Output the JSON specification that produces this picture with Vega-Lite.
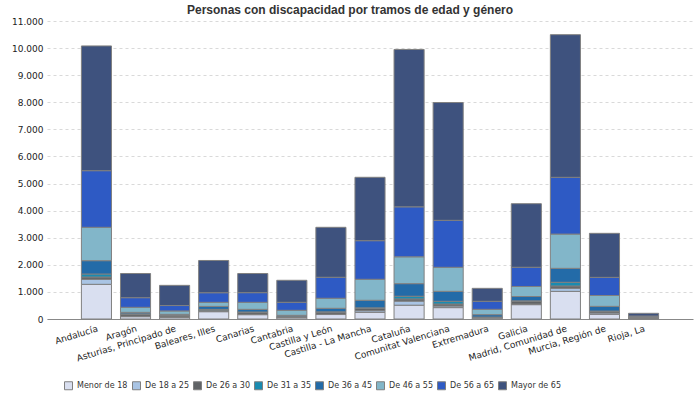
{
  "$schema": "https://vega.github.io/schema/vega-lite/v6.json",
  "autosize": "none",
  "padding": {"left": 47, "top": 21, "right": 7, "bottom": 81},
  "width": 646,
  "height": 298,
  "title": {
    "text": "Personas con discapacidad por tramos de edad y género",
    "font": "Liberation Sans",
    "fontSize": 12,
    "fontWeight": "bold",
    "color": "#333333",
    "anchor": "middle",
    "dx": -20,
    "offset": 0
  },
  "data": {
    "values": [
      {"c": "Andalucía", "g": "Menor de 18", "o": 1, "v": 1280},
      {"c": "Andalucía", "g": "De 18 a 25", "o": 2, "v": 184},
      {"c": "Andalucía", "g": "De 26 a 30", "o": 3, "v": 86},
      {"c": "Andalucía", "g": "De 31 a 35", "o": 4, "v": 111},
      {"c": "Andalucía", "g": "De 36 a 45", "o": 5, "v": 492},
      {"c": "Andalucía", "g": "De 46 a 55", "o": 6, "v": 1232},
      {"c": "Andalucía", "g": "De 56 a 65", "o": 7, "v": 2090},
      {"c": "Andalucía", "g": "Mayor de 65", "o": 8, "v": 4605},
      {"c": "Aragón", "g": "Menor de 18", "o": 1, "v": 86},
      {"c": "Aragón", "g": "De 18 a 25", "o": 2, "v": 14},
      {"c": "Aragón", "g": "De 26 a 30", "o": 3, "v": 75},
      {"c": "Aragón", "g": "De 31 a 35", "o": 4, "v": 15},
      {"c": "Aragón", "g": "De 36 a 45", "o": 5, "v": 56},
      {"c": "Aragón", "g": "De 46 a 55", "o": 6, "v": 185},
      {"c": "Aragón", "g": "De 56 a 65", "o": 7, "v": 356},
      {"c": "Aragón", "g": "Mayor de 65", "o": 8, "v": 893},
      {"c": "Asturias, Principado de", "g": "Menor de 18", "o": 1, "v": 62},
      {"c": "Asturias, Principado de", "g": "De 18 a 25", "o": 2, "v": 10},
      {"c": "Asturias, Principado de", "g": "De 26 a 30", "o": 3, "v": 45},
      {"c": "Asturias, Principado de", "g": "De 31 a 35", "o": 4, "v": 10},
      {"c": "Asturias, Principado de", "g": "De 36 a 45", "o": 5, "v": 45},
      {"c": "Asturias, Principado de", "g": "De 46 a 55", "o": 6, "v": 125},
      {"c": "Asturias, Principado de", "g": "De 56 a 65", "o": 7, "v": 200},
      {"c": "Asturias, Principado de", "g": "Mayor de 65", "o": 8, "v": 745},
      {"c": "Baleares, Illes", "g": "Menor de 18", "o": 1, "v": 270},
      {"c": "Baleares, Illes", "g": "De 18 a 25", "o": 2, "v": 25},
      {"c": "Baleares, Illes", "g": "De 26 a 30", "o": 3, "v": 30},
      {"c": "Baleares, Illes", "g": "De 31 a 35", "o": 4, "v": 30},
      {"c": "Baleares, Illes", "g": "De 36 a 45", "o": 5, "v": 110},
      {"c": "Baleares, Illes", "g": "De 46 a 55", "o": 6, "v": 150},
      {"c": "Baleares, Illes", "g": "De 56 a 65", "o": 7, "v": 355},
      {"c": "Baleares, Illes", "g": "Mayor de 65", "o": 8, "v": 1190},
      {"c": "Canarias", "g": "Menor de 18", "o": 1, "v": 160},
      {"c": "Canarias", "g": "De 18 a 25", "o": 2, "v": 12},
      {"c": "Canarias", "g": "De 26 a 30", "o": 3, "v": 76},
      {"c": "Canarias", "g": "De 31 a 35", "o": 4, "v": 10},
      {"c": "Canarias", "g": "De 36 a 45", "o": 5, "v": 99},
      {"c": "Canarias", "g": "De 46 a 55", "o": 6, "v": 258},
      {"c": "Canarias", "g": "De 56 a 65", "o": 7, "v": 357},
      {"c": "Canarias", "g": "Mayor de 65", "o": 8, "v": 708},
      {"c": "Cantabria", "g": "Menor de 18", "o": 1, "v": 50},
      {"c": "Cantabria", "g": "De 18 a 25", "o": 2, "v": 8},
      {"c": "Cantabria", "g": "De 26 a 30", "o": 3, "v": 20},
      {"c": "Cantabria", "g": "De 31 a 35", "o": 4, "v": 8},
      {"c": "Cantabria", "g": "De 36 a 45", "o": 5, "v": 50},
      {"c": "Cantabria", "g": "De 46 a 55", "o": 6, "v": 185},
      {"c": "Cantabria", "g": "De 56 a 65", "o": 7, "v": 295},
      {"c": "Cantabria", "g": "Mayor de 65", "o": 8, "v": 813},
      {"c": "Castilla y León", "g": "Menor de 18", "o": 1, "v": 165},
      {"c": "Castilla y León", "g": "De 18 a 25", "o": 2, "v": 10},
      {"c": "Castilla y León", "g": "De 26 a 30", "o": 3, "v": 80},
      {"c": "Castilla y León", "g": "De 31 a 35", "o": 4, "v": 10},
      {"c": "Castilla y León", "g": "De 36 a 45", "o": 5, "v": 130},
      {"c": "Castilla y León", "g": "De 46 a 55", "o": 6, "v": 370},
      {"c": "Castilla y León", "g": "De 56 a 65", "o": 7, "v": 775},
      {"c": "Castilla y León", "g": "Mayor de 65", "o": 8, "v": 1845},
      {"c": "Castilla - La Mancha", "g": "Menor de 18", "o": 1, "v": 246},
      {"c": "Castilla - La Mancha", "g": "De 18 a 25", "o": 2, "v": 60},
      {"c": "Castilla - La Mancha", "g": "De 26 a 30", "o": 3, "v": 90},
      {"c": "Castilla - La Mancha", "g": "De 31 a 35", "o": 4, "v": 15},
      {"c": "Castilla - La Mancha", "g": "De 36 a 45", "o": 5, "v": 280},
      {"c": "Castilla - La Mancha", "g": "De 46 a 55", "o": 6, "v": 775},
      {"c": "Castilla - La Mancha", "g": "De 56 a 65", "o": 7, "v": 1425},
      {"c": "Castilla - La Mancha", "g": "Mayor de 65", "o": 8, "v": 2340},
      {"c": "Cataluña", "g": "Menor de 18", "o": 1, "v": 510},
      {"c": "Cataluña", "g": "De 18 a 25", "o": 2, "v": 150},
      {"c": "Cataluña", "g": "De 26 a 30", "o": 3, "v": 80},
      {"c": "Cataluña", "g": "De 31 a 35", "o": 4, "v": 100},
      {"c": "Cataluña", "g": "De 36 a 45", "o": 5, "v": 465},
      {"c": "Cataluña", "g": "De 46 a 55", "o": 6, "v": 990},
      {"c": "Cataluña", "g": "De 56 a 65", "o": 7, "v": 1845},
      {"c": "Cataluña", "g": "Mayor de 65", "o": 8, "v": 5810},
      {"c": "Comunitat Valenciana", "g": "Menor de 18", "o": 1, "v": 420},
      {"c": "Comunitat Valenciana", "g": "De 18 a 25", "o": 2, "v": 60},
      {"c": "Comunitat Valenciana", "g": "De 26 a 30", "o": 3, "v": 73},
      {"c": "Comunitat Valenciana", "g": "De 31 a 35", "o": 4, "v": 100},
      {"c": "Comunitat Valenciana", "g": "De 36 a 45", "o": 5, "v": 368},
      {"c": "Comunitat Valenciana", "g": "De 46 a 55", "o": 6, "v": 887},
      {"c": "Comunitat Valenciana", "g": "De 56 a 65", "o": 7, "v": 1734},
      {"c": "Comunitat Valenciana", "g": "Mayor de 65", "o": 8, "v": 4348},
      {"c": "Extremadura", "g": "Menor de 18", "o": 1, "v": 37},
      {"c": "Extremadura", "g": "De 18 a 25", "o": 2, "v": 10},
      {"c": "Extremadura", "g": "De 26 a 30", "o": 3, "v": 15},
      {"c": "Extremadura", "g": "De 31 a 35", "o": 4, "v": 10},
      {"c": "Extremadura", "g": "De 36 a 45", "o": 5, "v": 88},
      {"c": "Extremadura", "g": "De 46 a 55", "o": 6, "v": 197},
      {"c": "Extremadura", "g": "De 56 a 65", "o": 7, "v": 296},
      {"c": "Extremadura", "g": "Mayor de 65", "o": 8, "v": 479},
      {"c": "Galicia", "g": "Menor de 18", "o": 1, "v": 530},
      {"c": "Galicia", "g": "De 18 a 25", "o": 2, "v": 20},
      {"c": "Galicia", "g": "De 26 a 30", "o": 3, "v": 110},
      {"c": "Galicia", "g": "De 31 a 35", "o": 4, "v": 10},
      {"c": "Galicia", "g": "De 36 a 45", "o": 5, "v": 160},
      {"c": "Galicia", "g": "De 46 a 55", "o": 6, "v": 370},
      {"c": "Galicia", "g": "De 56 a 65", "o": 7, "v": 710},
      {"c": "Galicia", "g": "Mayor de 65", "o": 8, "v": 2346},
      {"c": "Madrid, Comunidad de", "g": "Menor de 18", "o": 1, "v": 1020},
      {"c": "Madrid, Comunidad de", "g": "De 18 a 25", "o": 2, "v": 115},
      {"c": "Madrid, Comunidad de", "g": "De 26 a 30", "o": 3, "v": 85},
      {"c": "Madrid, Comunidad de", "g": "De 31 a 35", "o": 4, "v": 135},
      {"c": "Madrid, Comunidad de", "g": "De 36 a 45", "o": 5, "v": 515},
      {"c": "Madrid, Comunidad de", "g": "De 46 a 55", "o": 6, "v": 1265},
      {"c": "Madrid, Comunidad de", "g": "De 56 a 65", "o": 7, "v": 2095},
      {"c": "Madrid, Comunidad de", "g": "Mayor de 65", "o": 8, "v": 5265},
      {"c": "Murcia, Región de", "g": "Menor de 18", "o": 1, "v": 172},
      {"c": "Murcia, Región de", "g": "De 18 a 25", "o": 2, "v": 50},
      {"c": "Murcia, Región de", "g": "De 26 a 30", "o": 3, "v": 60},
      {"c": "Murcia, Región de", "g": "De 31 a 35", "o": 4, "v": 10},
      {"c": "Murcia, Región de", "g": "De 36 a 45", "o": 5, "v": 175},
      {"c": "Murcia, Región de", "g": "De 46 a 55", "o": 6, "v": 400},
      {"c": "Murcia, Región de", "g": "De 56 a 65", "o": 7, "v": 670},
      {"c": "Murcia, Región de", "g": "Mayor de 65", "o": 8, "v": 1625},
      {"c": "Rioja, La", "g": "Menor de 18", "o": 1, "v": 15},
      {"c": "Rioja, La", "g": "De 18 a 25", "o": 2, "v": 5},
      {"c": "Rioja, La", "g": "De 26 a 30", "o": 3, "v": 15},
      {"c": "Rioja, La", "g": "De 31 a 35", "o": 4, "v": 5},
      {"c": "Rioja, La", "g": "De 36 a 45", "o": 5, "v": 15},
      {"c": "Rioja, La", "g": "De 46 a 55", "o": 6, "v": 25},
      {"c": "Rioja, La", "g": "De 56 a 65", "o": 7, "v": 30},
      {"c": "Rioja, La", "g": "Mayor de 65", "o": 8, "v": 100}
    ]
  },
  "mark": {"type": "bar", "stroke": "#808080", "strokeWidth": 1},
  "encoding": {
    "x": {
      "field": "c",
      "type": "nominal",
      "sort": null,
      "title": null,
      "scale": {"paddingInner": 0.23, "paddingOuter": 0.88},
      "axis": {
        "labelAngle": -17,
        "labelAlign": "right",
        "labelBaseline": "top",
        "labelPadding": 5,
        "labelFont": "DejaVu Sans",
        "labelFontSize": 9,
        "labelColor": "#222222",
        "ticks": false,
        "domainColor": "#888888",
        "labelOverlap": false,
        "labelLimit": 300
      }
    },
    "y": {
      "field": "v",
      "type": "quantitative",
      "aggregate": "sum",
      "stack": "zero",
      "title": null,
      "scale": {"domain": [0, 11000], "nice": false},
      "axis": {
        "values": [0, 1000, 2000, 3000, 4000, 5000, 6000, 7000, 8000, 9000, 10000, 11000],
        "labelExpr": "replace(format(datum.value, ','), ',', '.')",
        "labelFont": "DejaVu Sans",
        "labelFontSize": 9,
        "labelColor": "#222222",
        "labelPadding": 4,
        "ticks": false,
        "domain": false,
        "gridColor": "#d9d9d9",
        "gridDash": [3, 3]
      }
    },
    "color": {
      "field": "g",
      "type": "nominal",
      "title": null,
      "scale": {
        "domain": ["Menor de 18", "De 18 a 25", "De 26 a 30", "De 31 a 35", "De 36 a 45", "De 46 a 55", "De 56 a 65", "Mayor de 65"],
        "range": ["#d9dff0", "#a9c4e4", "#606366", "#1a8bb0", "#236ba8", "#82b6c9", "#2e5ac4", "#3e527e"]
      },
      "legend": {
        "orient": "none",
        "direction": "horizontal",
        "legendX": 17,
        "legendY": 360,
        "symbolType": "square",
        "symbolSize": 64,
        "symbolStrokeColor": "#808080",
        "symbolStrokeWidth": 1,
        "labelFont": "DejaVu Sans",
        "labelFontSize": 8,
        "labelColor": "#333333",
        "labelOffset": 4,
        "columnPadding": 2
      }
    },
    "order": {"field": "o", "type": "quantitative"}
  },
  "config": {"view": {"stroke": null}}
}
